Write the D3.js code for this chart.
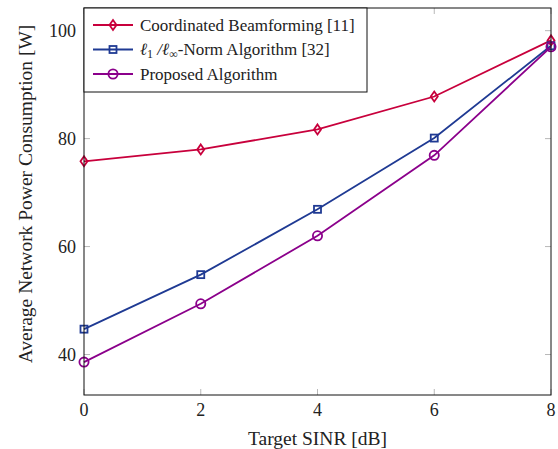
<!DOCTYPE html>
<html>
<head>
<meta charset="utf-8">
<script src="https://cdn.jsdelivr.net/npm/d3@7/dist/d3.min.js"></script>
<style>
  body { margin: 0; background: #fff; }
  text { font-family: "Liberation Serif", "DejaVu Serif", serif; fill: #222; }
</style>
</head>
<body>
<svg id="chart" width="558" height="449"></svg>
<script>
// data
var sinr = [0, 2, 4, 6, 8];
var coordinated = [75.8, 78.0, 81.7, 87.8, 98.2];
var l1Norm = [44.7, 54.8, 66.9, 80.1, 97.2];
var proposed = [38.6, 49.4, 62.0, 76.9, 97.0];
var xTicks = [0, 2, 4, 6, 8];
var yTicks = [40, 60, 80, 100];

var series = [
  { name: "Coordinated Beamforming [11]", values: coordinated, color: "#c8003c", marker: "diamond" },
  { name: "l1", values: l1Norm, color: "#1f3a93", marker: "square" },
  { name: "Proposed Algorithm", values: proposed, color: "#8b008b", marker: "circle" }
];

var pLeft = 84, pRight = 551, pTop = 8, pBottom = 395;

var svg = d3.select("#chart");

var x = d3.scaleLinear().domain([0, 8]).range([pLeft, pRight]);
var y = d3.scaleLinear().domain([32.5, 104.2]).range([pBottom, pTop]);

// inward ticks on all four sides
var tickLen = 6;
var grid = svg.append("g").attr("stroke", "#b8b8b8").attr("stroke-width", 1);
xTicks.forEach(function(t) {
  grid.append("line").attr("x1", x(t)).attr("x2", x(t)).attr("y1", pBottom).attr("y2", pBottom - tickLen);
  grid.append("line").attr("x1", x(t)).attr("x2", x(t)).attr("y1", pTop).attr("y2", pTop + tickLen);
});
yTicks.forEach(function(t) {
  grid.append("line").attr("y1", y(t)).attr("y2", y(t)).attr("x1", pLeft).attr("x2", pLeft + tickLen);
  grid.append("line").attr("y1", y(t)).attr("y2", y(t)).attr("x1", pRight).attr("x2", pRight - tickLen);
});

// tick labels
svg.append("g").selectAll("text").data(xTicks).enter().append("text")
  .attr("x", function(d) { return x(d); })
  .attr("y", pBottom + 21)
  .attr("text-anchor", "middle")
  .attr("font-size", 18)
  .text(function(d) { return d; });

svg.append("g").selectAll("text").data(yTicks).enter().append("text")
  .attr("x", pLeft - 8)
  .attr("y", function(d) { return y(d) + 6; })
  .attr("text-anchor", "end")
  .attr("font-size", 18)
  .text(function(d) { return d; });

// axis titles
svg.append("text")
  .attr("x", (pLeft + pRight) / 2)
  .attr("y", 445)
  .attr("text-anchor", "middle")
  .attr("font-size", 19.5)
  .text("Target SINR [dB]");

svg.append("text")
  .attr("transform", "translate(32,194) rotate(-90)")
  .attr("text-anchor", "middle")
  .attr("font-size", 19.5)
  .text("Average Network Power Consumption [W]");

// markers
function drawMarker(g, type, cx, cy, color) {
  if (type === "diamond") {
    g.append("path")
      .attr("d", "M" + cx + "," + (cy - 5) + "L" + (cx + 3.5) + "," + cy + "L" + cx + "," + (cy + 5) + "L" + (cx - 3.5) + "," + cy + "Z")
      .attr("fill", "none").attr("stroke", color).attr("stroke-width", 1.8);
  } else if (type === "square") {
    g.append("rect")
      .attr("x", cx - 3.5).attr("y", cy - 3.5).attr("width", 7).attr("height", 7)
      .attr("fill", "none").attr("stroke", color).attr("stroke-width", 1.8);
  } else {
    g.append("circle")
      .attr("cx", cx).attr("cy", cy).attr("r", 4.6)
      .attr("fill", "none").attr("stroke", color).attr("stroke-width", 1.8);
  }
}

var line = d3.line()
  .x(function(d, i) { return x(sinr[i]); })
  .y(function(d) { return y(d); });

var plot = svg.append("g");
series.forEach(function(s) {
  plot.append("path")
    .attr("d", line(s.values))
    .attr("fill", "none")
    .attr("stroke", s.color)
    .attr("stroke-width", 1.8);
  s.values.forEach(function(v, i) {
    drawMarker(plot, s.marker, x(sinr[i]), y(v), s.color);
  });
});

// frame
svg.append("rect")
  .attr("x", pLeft).attr("y", pTop)
  .attr("width", pRight - pLeft).attr("height", pBottom - pTop)
  .attr("fill", "none").attr("stroke", "#111").attr("stroke-width", 1);

// legend
var legend = svg.append("g");
legend.append("rect")
  .attr("x", pLeft).attr("y", pTop)
  .attr("width", 283).attr("height", 84)
  .attr("fill", "#fff").attr("stroke", "#111").attr("stroke-width", 1);

series.forEach(function(s, i) {
  var ly = 25 + i * 24.5;
  legend.append("line")
    .attr("x1", 93).attr("x2", 133).attr("y1", ly).attr("y2", ly)
    .attr("stroke", s.color).attr("stroke-width", 1.8);
  drawMarker(legend, s.marker, 113, ly, s.color);
  var t = legend.append("text")
    .attr("x", 140).attr("y", ly + 5.5)
    .attr("font-size", 17);
  if (s.name === "l1") {
    t.append("tspan").attr("font-style", "italic").text("\u2113");
    t.append("tspan").attr("font-size", 12).attr("dy", 3).text("1");
    t.append("tspan").attr("dy", -3).attr("font-style", "italic").text(" /\u2113");
    t.append("tspan").attr("font-size", 12).attr("dy", 3).text("\u221E");
    t.append("tspan").attr("dy", -3).text("-Norm Algorithm [32]");
  } else {
    t.text(s.name);
  }
});
</script>
</body>
</html>
